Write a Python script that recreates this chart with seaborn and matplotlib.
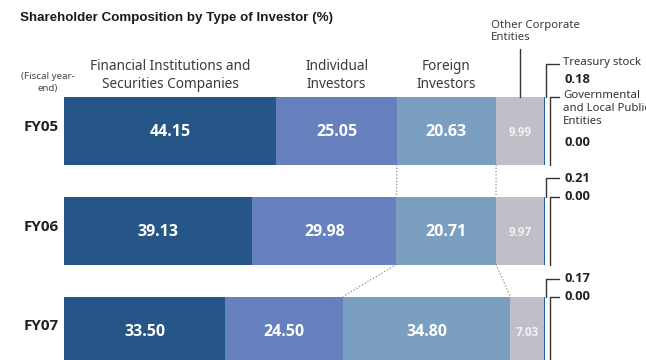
import numpy as np
import matplotlib
matplotlib.use("Agg")
import matplotlib.pyplot as plt
import seaborn as sns
from matplotlib import font_manager

# Shareholder composition (%) by fiscal year-end
years = ["FY05", "FY06", "FY07"]
financial = [44.15, 39.13, 33.50]
individual = [25.05, 29.98, 24.50]
foreign = [20.63, 20.71, 34.80]
other_corp = [9.99, 9.97, 7.03]
treasury = [0.18, 0.21, 0.17]
government = [0.00, 0.00, 0.00]

headers = ["Financial Institutions and\nSecurities Companies",
           "Individual\nInvestors",
           "Foreign\nInvestors",
           "Other Corporate\nEntities"]
colors = ["#265688", "#6781BF", "#7B9FC1", "#BEBFC7", "#1F5FAE", "#1F5FAE"]

sns.set_theme(style="white")

NAMED = {"bold": 700, "semibold": 600, "demibold": 600, "medium": 500,
         "heavy": 800, "black": 900, "extra bold": 800, "normal": 400,
         "regular": 400, "light": 300}


def weights(name):
    out = []
    for f in font_manager.fontManager.ttflist:
        if f.name == name:
            w = f.weight
            if isinstance(w, str):
                w = NAMED.get(w.lower(), 400)
            out.append(w)
    return out


body_font = next((n for n in ["Noto Sans", "Open Sans", "Lato", "Roboto"]
                  if any(w >= 600 for w in weights(n))), "DejaVu Sans")
light_font = "Noto Sans" if weights("Noto Sans") else body_font
title_font = next((n for n in ["Liberation Sans Narrow", "Liberation Sans"] if weights(n)),
                  "DejaVu Sans")
plt.rcParams["font.family"] = [light_font, "DejaVu Sans"]
BOLD = [body_font, "DejaVu Sans"]

series = np.array([financial, individual, foreign, other_corp, treasury, government])
ends = np.cumsum(series, axis=0)          # right edge of each segment
n_seg, n_year = series.shape

fig = plt.figure(figsize=(6.46, 3.6), dpi=100)
ax = fig.add_axes([0, 0, 1, 1])

# stacked bars: draw cumulative totals from the outermost segment inwards
for k in reversed(range(n_seg)):
    sns.barplot(x=ends[k], y=years, orient="h", color=colors[k], saturation=1,
                width=0.68, errorbar=None, ax=ax, linewidth=0, edgecolor="none")

# canvas mapping: 4.81 px per percentage point, 100 px between rows
PX = 4.81
X0 = 64
ax.set_xlim(-X0 / PX, (646 - X0) / PX)
ax.set_ylim((360 - 130.5) / 100, -130.5 / 100)
ax.set_axis_off()


def xpx(p):
    return (p - X0) / PX


def ypx(p):
    return (p - 130.5) / 100


half = 0.34
total = ends[-1]

# values inside the segments
for i in range(n_year):
    for k in range(4):
        v = series[k, i]
        cx = ends[k, i] - v / 2
        if k < 3:
            ax.text(cx, i + 0.01, f"{v:.2f}", ha="center", va="center",
                    color="white", fontsize=11.5, fontweight="bold", family=BOLD)
        else:
            ax.text(cx, i + 0.02, f"{v:.2f}", ha="center", va="center",
                    color="#f2f2f4", fontsize=8.5, fontweight="bold", family=BOLD)
    ax.text(xpx(59), i - 0.04, years[i], ha="right", va="center",
            color="#222222", fontsize=11, fontweight="bold", family=BOLD)

# dotted connectors following the Foreign Investors segment
for i in range(n_year - 1):
    for k in (1, 2):
        ax.plot([ends[k, i], ends[k, i + 1]], [i + half, i + 1 - half],
                color="#8a8a8a", lw=0.9, ls=(0, (1, 1.6)))

# column headers above the first bar
for k in range(3):
    cx = ends[k, 0] - series[k, 0] / 2
    ax.text(cx, ypx(75.5), headers[k], ha="center", va="center",
            color="#3a3a3a", fontsize=9.8, linespacing=1.2)
cx_other = ends[3, 0] - series[3, 0] / 2
ax.text(xpx(491), ypx(31.5), headers[3], ha="left", va="center",
        color="#3a3a3a", fontsize=8.2, linespacing=1.1)
ax.plot([cx_other, cx_other], [ypx(49), -half], color="#333333", lw=1)

ax.text(xpx(47.5), ypx(82.5), "(Fiscal year-\nend)", ha="center", va="center",
        color="#444444", fontsize=7, linespacing=1.35)

# right-hand brackets for treasury stock and public entities
line_kw = dict(color="#333333", lw=1)
tre_off = [32.5, 18.5, 17.5]
val_kw = dict(ha="left", va="center", color="#222222", fontsize=9.3,
              fontweight="bold", family=BOLD)
for i in range(n_year):
    top = i - half
    bottom = i + half
    x_end = total[i]
    y_t = top - tre_off[i] / 100
    ax.plot([x_end + 0.2, x_end + 0.2, x_end + 3.0], [top, y_t, y_t], **line_kw)
    y_g = top + 0.005
    ax.plot([x_end + 1.05, x_end + 1.05, x_end + 2.9], [bottom, y_g, y_g], **line_kw)
    if i == 0:
        ax.text(xpx(563), y_t - 0.02, "Treasury stock", ha="left", va="center",
                color="#333333", fontsize=8.2)
        ax.text(xpx(565), y_t + 0.155, f"{treasury[i]:.2f}", **val_kw)
        ax.text(xpx(563), y_g - 0.065, "Governmental\nand Local Public\nEntities",
                ha="left", va="top", color="#333333", fontsize=8.2, linespacing=1.2)
        ax.text(xpx(565), ypx(142.5), f"{government[i]:.2f}", **val_kw)
    else:
        ax.text(xpx(565), y_t, f"{treasury[i]:.2f}", **val_kw)
        ax.text(xpx(565), y_g, f"{government[i]:.2f}", **val_kw)

fig.text(20 / 646, 1 - 18.5 / 360, "Shareholder Composition by Type of Investor (%)",
         ha="left", va="center", fontsize=9.6, fontweight="bold",
         family=[title_font, "DejaVu Sans"], color="#1a1a1a")

fig.savefig("out.png", dpi=100)
